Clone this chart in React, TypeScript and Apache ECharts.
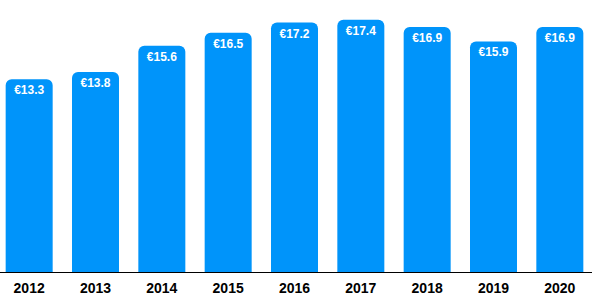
import React, { useEffect, useRef } from "react";
import * as echarts from "echarts";

const years = ["2012", "2013", "2014", "2015", "2016", "2017", "2018", "2019", "2020"];
const values = [13.3, 13.8, 15.6, 16.5, 17.2, 17.4, 16.9, 15.9, 16.9];

export default function App() {
  const ref = useRef<HTMLDivElement>(null);
  useEffect(() => {
    if (!ref.current) return;
    const chart = echarts.init(ref.current, null, { renderer: "svg" });
    const font = "'Liberation Sans', Arial, Helvetica, sans-serif";
    chart.setOption({
      animation: false,
      grid: { left: 0, right: 0, top: 11, bottom: 31, containLabel: false },
      xAxis: {
        type: "category",
        data: years,
        axisLine: { show: true, lineStyle: { color: "#000", width: 1 } },
        axisTick: { show: false },
        axisLabel: { color: "#000", fontWeight: "bold", fontSize: 14, fontFamily: font, margin: 9 },
      },
      yAxis: {
        type: "value",
        min: 0,
        max: 18,
        show: false,
        splitLine: { show: false },
      },
      series: [
        {
          type: "bar",
          data: values,
          barWidth: 47,
          itemStyle: { color: "#0094FA", borderRadius: [6, 6, 0, 0] },
          label: {
            show: true,
            position: "insideTop",
            distance: 5,
            color: "#fff",
            fontWeight: "bold",
            fontSize: 12,
            fontFamily: font,
            formatter: (p: any) => "€" + p.value.toFixed(1),
          },
        },
      ],
    });
    return () => chart.dispose();
  }, []);
  return (
    <div style={{ position: "absolute", left: 0, top: 0, width: 592, height: 303, overflow: "hidden" }}>
      <div ref={ref} style={{ width: 597, height: 303, position: "absolute", left: -4, top: 0 }} />
    </div>
  );
}
